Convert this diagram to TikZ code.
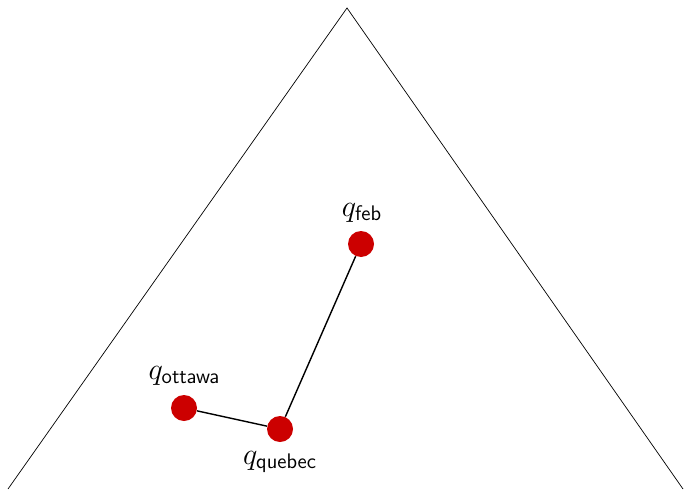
\documentclass[tikz,border=0pt]{standalone}
\usepackage{amsmath}
\begin{document}
\begin{tikzpicture}[
    kota/.style={circle,fill=red!80!black,minimum size=0.52cm,inner sep=0pt},
    nama/.style={anchor=base,inner sep=0pt,font=\fontsize{18.5}{22}\selectfont}
  ]
      \useasboundingbox (0,0) rectangle (13.72,9.78);

      % Segitiga (tanpa alas)
      \draw (0.16,0) -- (6.94,9.62) -- (13.66,0);

      % Titik
      \node[kota] (feb) at (7.22,4.90) {};
      \node[kota] (ottawa) at (3.68,1.62) {};
      \node[kota] (quebec) at (5.60,1.20) {};

      % Garis penghubung
      \draw[thick] (ottawa) -- (quebec) -- (feb);

      % Label
      \node[nama] (lfeb) at (7.24,5.46) {$q_{\mathsf{feb}}$};
      \node[nama] (lottawa) at (3.69,2.20) {$q_{\mathsf{ottawa}}$};
      \node[nama] (lquebec) at (5.60,0.50) {$q_{\mathsf{quebec}}$};
    \end{tikzpicture}
\end{document}
